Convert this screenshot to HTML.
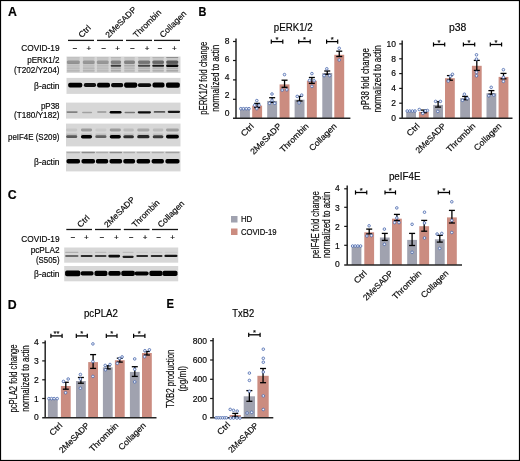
<!DOCTYPE html>
<html><head><meta charset="utf-8"><style>
html,body{margin:0;padding:0;background:#fff;}
body{width:520px;height:461px;overflow:hidden;position:relative;}
svg{position:absolute;left:0;top:0;display:block;font-family:"Liberation Sans", sans-serif;filter:blur(0.25px);}
text{stroke:#151515;stroke-width:0.18px;}
</style></head><body>
<svg width="520" height="461" viewBox="0 0 520 461">
<defs><filter id="bl" x="-20%" y="-50%" width="140%" height="200%"><feGaussianBlur stdDeviation="0.75"/></filter></defs>
<rect x="0" y="0" width="520" height="461" fill="#fff"/>
<text x="8.00" y="16.00" font-size="12.3" text-anchor="start" font-weight="bold" fill="#000" stroke="#000" stroke-width="0.45">A</text>
<text x="198.60" y="15.60" font-size="12.3" text-anchor="start" font-weight="bold" textLength="7.90" lengthAdjust="spacingAndGlyphs" fill="#000" stroke="#000" stroke-width="0.45">B</text>
<text x="7.80" y="198.60" font-size="12.3" text-anchor="start" font-weight="bold" fill="#000" stroke="#000" stroke-width="0.45">C</text>
<text x="7.80" y="309.10" font-size="12.3" text-anchor="start" font-weight="bold" fill="#000" stroke="#000" stroke-width="0.45">D</text>
<text x="166.60" y="308.10" font-size="12.3" text-anchor="start" font-weight="bold" textLength="7.50" lengthAdjust="spacingAndGlyphs" fill="#000" stroke="#000" stroke-width="0.45">E</text>
<line x1="68.00" y1="40.40" x2="94.00" y2="40.40" stroke="#151515" stroke-width="1.3"/>
<line x1="97.00" y1="40.40" x2="123.00" y2="40.40" stroke="#151515" stroke-width="1.3"/>
<line x1="126.00" y1="40.40" x2="152.00" y2="40.40" stroke="#151515" stroke-width="1.3"/>
<line x1="154.00" y1="40.40" x2="180.00" y2="40.40" stroke="#151515" stroke-width="1.3"/>
<text x="75.00" y="50.70" font-size="8" text-anchor="middle" >−</text>
<text x="88.75" y="50.70" font-size="8" text-anchor="middle" >+</text>
<text x="103.75" y="50.70" font-size="8" text-anchor="middle" >−</text>
<text x="117.50" y="50.70" font-size="8" text-anchor="middle" >+</text>
<text x="132.50" y="50.70" font-size="8" text-anchor="middle" >−</text>
<text x="147.00" y="50.70" font-size="8" text-anchor="middle" >+</text>
<text x="160.00" y="50.70" font-size="8" text-anchor="middle" >−</text>
<text x="174.25" y="50.70" font-size="8" text-anchor="middle" >+</text>
<text x="81.70" y="38.20" font-size="8.3" text-anchor="start" textLength="13.80" lengthAdjust="spacingAndGlyphs" transform="rotate(-45 81.70 38.20)" >Ctrl</text>
<text x="108.80" y="38.20" font-size="8.3" text-anchor="start" textLength="39.80" lengthAdjust="spacingAndGlyphs" transform="rotate(-45 108.80 38.20)" >2MeSADP</text>
<text x="136.60" y="38.20" font-size="8.3" text-anchor="start" textLength="35.60" lengthAdjust="spacingAndGlyphs" transform="rotate(-45 136.60 38.20)" >Thrombin</text>
<text x="162.90" y="38.20" font-size="8.3" text-anchor="start" textLength="34.10" lengthAdjust="spacingAndGlyphs" transform="rotate(-45 162.90 38.20)" >Collagen</text>
<text x="59.50" y="50.70" font-size="8.5" text-anchor="end" textLength="38.20" lengthAdjust="spacingAndGlyphs" >COVID-19</text>
<text x="59.50" y="63.40" font-size="8.5" text-anchor="end" textLength="32.30" lengthAdjust="spacingAndGlyphs" >pERK1/2</text>
<text x="59.50" y="72.50" font-size="8.5" text-anchor="end" textLength="45.50" lengthAdjust="spacingAndGlyphs" >(T202/Y204)</text>
<text x="59.50" y="88.90" font-size="8.5" text-anchor="end" textLength="25.40" lengthAdjust="spacingAndGlyphs" >β-actin</text>
<text x="59.50" y="109.00" font-size="8.5" text-anchor="end" textLength="18.60" lengthAdjust="spacingAndGlyphs" >pP38</text>
<text x="59.50" y="118.40" font-size="8.5" text-anchor="end" textLength="45.50" lengthAdjust="spacingAndGlyphs" >(T180/Y182)</text>
<text x="59.50" y="139.80" font-size="8.5" text-anchor="end" textLength="51.50" lengthAdjust="spacingAndGlyphs" >peIF4E (S209)</text>
<text x="59.50" y="164.60" font-size="8.5" text-anchor="end" textLength="25.40" lengthAdjust="spacingAndGlyphs" >β-actin</text>
<rect x="66.50" y="56.50" width="114.00" height="16.50" fill="#d7d7d7"/>
<g filter="url(#bl)">
<rect x="67.10" y="57.30" width="12.50" height="14.90" fill="#000" fill-opacity="0.08"/>
<rect x="83.00" y="57.30" width="11.50" height="14.90" fill="#000" fill-opacity="0.08"/>
<rect x="97.00" y="57.30" width="11.50" height="14.90" fill="#000" fill-opacity="0.08"/>
<rect x="111.00" y="57.30" width="9.80" height="14.90" fill="#000" fill-opacity="0.08"/>
<rect x="124.30" y="57.30" width="10.40" height="14.90" fill="#000" fill-opacity="0.08"/>
<rect x="138.30" y="57.30" width="11.60" height="14.90" fill="#000" fill-opacity="0.08"/>
<rect x="152.60" y="57.30" width="11.10" height="14.90" fill="#000" fill-opacity="0.08"/>
<rect x="166.50" y="57.30" width="11.50" height="14.90" fill="#000" fill-opacity="0.08"/>
<rect x="66.70" y="60.55" width="13.30" height="3.10" rx="1.55" fill="#000" fill-opacity="0.26"/>
<rect x="82.60" y="60.55" width="12.30" height="3.10" rx="1.55" fill="#000" fill-opacity="0.24"/>
<rect x="96.60" y="60.55" width="12.30" height="3.10" rx="1.55" fill="#000" fill-opacity="0.24"/>
<rect x="110.60" y="60.55" width="10.60" height="3.10" rx="1.55" fill="#000" fill-opacity="0.36"/>
<rect x="123.90" y="60.55" width="11.20" height="3.10" rx="1.55" fill="#000" fill-opacity="0.34"/>
<rect x="137.90" y="60.55" width="12.40" height="3.10" rx="1.55" fill="#000" fill-opacity="0.42"/>
<rect x="152.20" y="60.55" width="11.90" height="3.10" rx="1.55" fill="#000" fill-opacity="0.48"/>
<rect x="166.10" y="60.55" width="12.30" height="3.10" rx="1.55" fill="#000" fill-opacity="0.56"/>
<rect x="66.70" y="62.90" width="13.30" height="1.00" rx="0.50" fill="#000" fill-opacity="0.10"/>
<rect x="82.60" y="62.90" width="12.30" height="1.00" rx="0.50" fill="#000" fill-opacity="0.10"/>
<rect x="96.60" y="62.90" width="12.30" height="1.00" rx="0.50" fill="#000" fill-opacity="0.10"/>
<rect x="110.60" y="62.90" width="10.60" height="1.00" rx="0.50" fill="#000" fill-opacity="0.12"/>
<rect x="123.90" y="62.90" width="11.20" height="1.00" rx="0.50" fill="#000" fill-opacity="0.12"/>
<rect x="137.90" y="62.90" width="12.40" height="1.00" rx="0.50" fill="#000" fill-opacity="0.12"/>
<rect x="152.20" y="62.90" width="11.90" height="1.00" rx="0.50" fill="#000" fill-opacity="0.14"/>
<rect x="166.10" y="62.90" width="12.30" height="1.00" rx="0.50" fill="#000" fill-opacity="0.16"/>
<rect x="66.70" y="65.05" width="13.30" height="1.50" rx="0.75" fill="#000" fill-opacity="0.04"/>
<rect x="82.60" y="65.05" width="12.30" height="1.50" rx="0.75" fill="#000" fill-opacity="0.04"/>
<rect x="96.60" y="65.05" width="12.30" height="1.50" rx="0.75" fill="#000" fill-opacity="0.06"/>
<rect x="110.60" y="64.80" width="10.60" height="2.00" rx="1.00" fill="#000" fill-opacity="0.70"/>
<rect x="123.90" y="65.00" width="11.20" height="1.60" rx="0.80" fill="#000" fill-opacity="0.14"/>
<rect x="137.90" y="64.85" width="12.40" height="1.90" rx="0.95" fill="#000" fill-opacity="0.66"/>
<rect x="152.20" y="64.80" width="11.90" height="2.00" rx="1.00" fill="#000" fill-opacity="0.88"/>
<rect x="166.10" y="64.60" width="12.30" height="2.40" rx="1.20" fill="#000" fill-opacity="0.97"/>
<rect x="66.70" y="67.40" width="13.30" height="1.60" rx="0.80" fill="#000" fill-opacity="0.06"/>
<rect x="82.60" y="67.40" width="12.30" height="1.60" rx="0.80" fill="#000" fill-opacity="0.08"/>
<rect x="96.60" y="67.40" width="12.30" height="1.60" rx="0.80" fill="#000" fill-opacity="0.05"/>
<rect x="110.60" y="67.40" width="10.60" height="1.60" rx="0.80" fill="#000" fill-opacity="0.12"/>
<rect x="123.90" y="67.40" width="11.20" height="1.60" rx="0.80" fill="#000" fill-opacity="0.08"/>
<rect x="137.90" y="67.40" width="12.40" height="1.60" rx="0.80" fill="#000" fill-opacity="0.10"/>
<rect x="152.20" y="67.40" width="11.90" height="1.60" rx="0.80" fill="#000" fill-opacity="0.10"/>
<rect x="166.10" y="67.40" width="12.30" height="1.60" rx="0.80" fill="#000" fill-opacity="0.12"/>
<rect x="66.70" y="69.90" width="13.30" height="1.60" rx="0.80" fill="#000" fill-opacity="0.08"/>
<rect x="82.60" y="69.90" width="12.30" height="1.60" rx="0.80" fill="#000" fill-opacity="0.10"/>
<rect x="96.60" y="69.90" width="12.30" height="1.60" rx="0.80" fill="#000" fill-opacity="0.06"/>
<rect x="110.60" y="69.90" width="10.60" height="1.60" rx="0.80" fill="#000" fill-opacity="0.14"/>
<rect x="123.90" y="69.90" width="11.20" height="1.60" rx="0.80" fill="#000" fill-opacity="0.08"/>
<rect x="137.90" y="69.90" width="12.40" height="1.60" rx="0.80" fill="#000" fill-opacity="0.12"/>
<rect x="152.20" y="69.90" width="11.90" height="1.60" rx="0.80" fill="#000" fill-opacity="0.12"/>
<rect x="166.10" y="69.90" width="12.30" height="1.60" rx="0.80" fill="#000" fill-opacity="0.16"/>
<rect x="66.70" y="57.10" width="13.30" height="1.00" rx="0.50" fill="#000" fill-opacity="0.05"/>
<rect x="82.60" y="57.10" width="12.30" height="1.00" rx="0.50" fill="#000" fill-opacity="0.05"/>
<rect x="96.60" y="57.10" width="12.30" height="1.00" rx="0.50" fill="#000" fill-opacity="0.05"/>
<rect x="110.60" y="57.10" width="10.60" height="1.00" rx="0.50" fill="#000" fill-opacity="0.10"/>
<rect x="123.90" y="57.10" width="11.20" height="1.00" rx="0.50" fill="#000" fill-opacity="0.05"/>
<rect x="137.90" y="57.10" width="12.40" height="1.00" rx="0.50" fill="#000" fill-opacity="0.08"/>
<rect x="152.20" y="57.10" width="11.90" height="1.00" rx="0.50" fill="#000" fill-opacity="0.12"/>
<rect x="166.10" y="57.10" width="12.30" height="1.00" rx="0.50" fill="#000" fill-opacity="0.30"/>
</g>
<rect x="66.50" y="77.90" width="114.00" height="16.00" fill="#d7d7d7"/>
<g filter="url(#bl)">
<rect x="68.20" y="82.70" width="14.10" height="4.80" rx="1.80" fill="#000" fill-opacity="1.00"/>
<rect x="83.80" y="83.10" width="12.30" height="4.00" rx="1.80" fill="#000" fill-opacity="0.92"/>
<rect x="97.10" y="82.70" width="12.90" height="4.80" rx="1.80" fill="#000" fill-opacity="1.00"/>
<rect x="111.10" y="82.90" width="12.10" height="4.40" rx="1.80" fill="#000" fill-opacity="0.97"/>
<rect x="124.10" y="82.55" width="13.10" height="5.10" rx="1.80" fill="#000" fill-opacity="1.00"/>
<rect x="137.80" y="83.20" width="13.40" height="3.80" rx="1.80" fill="#000" fill-opacity="0.95"/>
<rect x="152.50" y="82.60" width="12.00" height="5.00" rx="1.80" fill="#000" fill-opacity="1.00"/>
<rect x="166.00" y="82.45" width="13.80" height="5.30" rx="1.80" fill="#000" fill-opacity="1.00"/>
</g>
<rect x="66.00" y="102.60" width="114.50" height="16.00" fill="#d7d7d7"/>
<g filter="url(#bl)">
<rect x="66.50" y="111.30" width="11.20" height="1.60" rx="0.80" fill="#000" fill-opacity="0.40"/>
<rect x="82.10" y="111.80" width="10.00" height="1.40" rx="0.70" fill="#000" fill-opacity="0.25"/>
<rect x="97.10" y="111.35" width="9.40" height="1.50" rx="0.75" fill="#000" fill-opacity="0.30"/>
<rect x="109.70" y="111.00" width="11.80" height="2.60" rx="1.30" fill="#000" fill-opacity="1.00"/>
<rect x="124.50" y="111.70" width="10.60" height="1.60" rx="0.80" fill="#000" fill-opacity="0.45"/>
<rect x="137.70" y="111.15" width="13.30" height="2.30" rx="1.15" fill="#000" fill-opacity="0.95"/>
<rect x="153.70" y="111.00" width="11.60" height="1.80" rx="0.90" fill="#000" fill-opacity="0.60"/>
<rect x="167.70" y="110.70" width="12.40" height="2.20" rx="1.10" fill="#000" fill-opacity="0.90"/>
</g>
<rect x="66.00" y="123.60" width="114.50" height="22.80" fill="#d7d7d7"/>
<g filter="url(#bl)">
<rect x="66.10" y="135.30" width="11.20" height="2.80" rx="1.40" fill="#000" fill-opacity="0.58"/>
<rect x="80.90" y="134.90" width="11.20" height="3.60" rx="1.80" fill="#000" fill-opacity="1.00"/>
<rect x="95.30" y="135.30" width="11.20" height="2.80" rx="1.40" fill="#000" fill-opacity="0.55"/>
<rect x="109.70" y="134.90" width="11.20" height="3.60" rx="1.80" fill="#000" fill-opacity="1.00"/>
<rect x="123.30" y="135.20" width="10.60" height="3.00" rx="1.50" fill="#000" fill-opacity="0.78"/>
<rect x="137.20" y="135.10" width="12.30" height="3.20" rx="1.60" fill="#000" fill-opacity="0.82"/>
<rect x="152.70" y="135.20" width="10.70" height="3.00" rx="1.50" fill="#000" fill-opacity="0.72"/>
<rect x="166.00" y="134.80" width="12.90" height="3.80" rx="1.80" fill="#000" fill-opacity="1.00"/>
<rect x="66.10" y="133.40" width="11.20" height="2.00" rx="1.00" fill="#000" fill-opacity="0.12"/>
<rect x="80.90" y="133.40" width="11.20" height="2.00" rx="1.00" fill="#000" fill-opacity="0.12"/>
<rect x="95.30" y="133.40" width="11.20" height="2.00" rx="1.00" fill="#000" fill-opacity="0.10"/>
<rect x="109.70" y="133.40" width="11.20" height="2.00" rx="1.00" fill="#000" fill-opacity="0.12"/>
<rect x="123.30" y="133.40" width="10.60" height="2.00" rx="1.00" fill="#000" fill-opacity="0.10"/>
<rect x="137.20" y="133.40" width="12.30" height="2.00" rx="1.00" fill="#000" fill-opacity="0.10"/>
<rect x="152.70" y="133.40" width="10.70" height="2.00" rx="1.00" fill="#000" fill-opacity="0.10"/>
<rect x="166.00" y="133.40" width="12.90" height="2.00" rx="1.00" fill="#000" fill-opacity="0.12"/>
<rect x="66.10" y="128.60" width="11.20" height="2.80" rx="1.40" fill="#000" fill-opacity="0.08"/>
<rect x="80.90" y="128.60" width="11.20" height="2.80" rx="1.40" fill="#000" fill-opacity="0.28"/>
<rect x="95.30" y="128.60" width="11.20" height="2.80" rx="1.40" fill="#000" fill-opacity="0.06"/>
<rect x="109.70" y="128.60" width="11.20" height="2.80" rx="1.40" fill="#000" fill-opacity="0.28"/>
<rect x="123.30" y="128.60" width="10.60" height="2.80" rx="1.40" fill="#000" fill-opacity="0.12"/>
<rect x="137.20" y="128.60" width="12.30" height="2.80" rx="1.40" fill="#000" fill-opacity="0.22"/>
<rect x="152.70" y="128.60" width="10.70" height="2.80" rx="1.40" fill="#000" fill-opacity="0.12"/>
<rect x="166.00" y="128.60" width="12.90" height="2.80" rx="1.40" fill="#000" fill-opacity="0.26"/>
</g>
<rect x="66.00" y="151.20" width="114.50" height="20.20" fill="#d7d7d7"/>
<g filter="url(#bl)">
<rect x="66.50" y="159.00" width="13.50" height="4.60" rx="1.80" fill="#000" fill-opacity="1.00"/>
<rect x="81.50" y="159.00" width="13.50" height="4.60" rx="1.80" fill="#000" fill-opacity="1.00"/>
<rect x="95.90" y="159.00" width="12.30" height="4.60" rx="1.80" fill="#000" fill-opacity="1.00"/>
<rect x="109.50" y="159.00" width="12.60" height="4.60" rx="1.80" fill="#000" fill-opacity="1.00"/>
<rect x="123.30" y="159.00" width="11.80" height="4.60" rx="1.80" fill="#000" fill-opacity="1.00"/>
<rect x="136.60" y="159.00" width="13.50" height="4.60" rx="1.80" fill="#000" fill-opacity="1.00"/>
<rect x="151.60" y="159.00" width="12.30" height="4.60" rx="1.80" fill="#000" fill-opacity="1.00"/>
<rect x="165.40" y="159.00" width="14.10" height="4.60" rx="1.80" fill="#000" fill-opacity="1.00"/>
<rect x="66.50" y="151.85" width="13.50" height="1.30" rx="0.65" fill="#000" fill-opacity="0.20"/>
<rect x="81.50" y="151.85" width="13.50" height="1.30" rx="0.65" fill="#000" fill-opacity="0.35"/>
<rect x="95.90" y="151.85" width="12.30" height="1.30" rx="0.65" fill="#000" fill-opacity="0.20"/>
<rect x="109.50" y="151.85" width="12.60" height="1.30" rx="0.65" fill="#000" fill-opacity="0.35"/>
<rect x="123.30" y="151.85" width="11.80" height="1.30" rx="0.65" fill="#000" fill-opacity="0.20"/>
<rect x="136.60" y="151.85" width="13.50" height="1.30" rx="0.65" fill="#000" fill-opacity="0.20"/>
<rect x="151.60" y="151.85" width="12.30" height="1.30" rx="0.65" fill="#000" fill-opacity="0.20"/>
<rect x="165.40" y="151.85" width="14.10" height="1.30" rx="0.65" fill="#000" fill-opacity="0.25"/>
</g>
<line x1="66.30" y1="229.50" x2="92.00" y2="229.50" stroke="#151515" stroke-width="1.3"/>
<line x1="95.00" y1="229.50" x2="120.80" y2="229.50" stroke="#151515" stroke-width="1.3"/>
<line x1="123.80" y1="229.50" x2="149.50" y2="229.50" stroke="#151515" stroke-width="1.3"/>
<line x1="152.00" y1="229.50" x2="178.00" y2="229.50" stroke="#151515" stroke-width="1.3"/>
<text x="73.00" y="240.20" font-size="8" text-anchor="middle" >−</text>
<text x="86.25" y="240.20" font-size="8" text-anchor="middle" >+</text>
<text x="102.00" y="240.20" font-size="8" text-anchor="middle" >−</text>
<text x="116.25" y="240.20" font-size="8" text-anchor="middle" >+</text>
<text x="131.25" y="240.20" font-size="8" text-anchor="middle" >−</text>
<text x="145.00" y="240.20" font-size="8" text-anchor="middle" >+</text>
<text x="158.75" y="240.20" font-size="8" text-anchor="middle" >−</text>
<text x="172.50" y="240.20" font-size="8" text-anchor="middle" >+</text>
<text x="80.50" y="228.00" font-size="8.3" text-anchor="start" textLength="13.50" lengthAdjust="spacingAndGlyphs" transform="rotate(-45 80.50 228.00)" >Ctrl</text>
<text x="107.50" y="228.00" font-size="8.3" text-anchor="start" textLength="39.50" lengthAdjust="spacingAndGlyphs" transform="rotate(-45 107.50 228.00)" >2MeSADP</text>
<text x="135.20" y="228.00" font-size="8.3" text-anchor="start" textLength="35.20" lengthAdjust="spacingAndGlyphs" transform="rotate(-45 135.20 228.00)" >Thrombin</text>
<text x="161.00" y="228.00" font-size="8.3" text-anchor="start" textLength="33.80" lengthAdjust="spacingAndGlyphs" transform="rotate(-45 161.00 228.00)" >Collagen</text>
<text x="59.50" y="242.00" font-size="8.5" text-anchor="end" textLength="38.20" lengthAdjust="spacingAndGlyphs" >COVID-19</text>
<text x="59.50" y="253.20" font-size="8.5" text-anchor="end" textLength="28.80" lengthAdjust="spacingAndGlyphs" >pcPLA2</text>
<text x="59.50" y="262.60" font-size="8.5" text-anchor="end" textLength="23.50" lengthAdjust="spacingAndGlyphs" >(S505)</text>
<text x="59.50" y="277.20" font-size="8.5" text-anchor="end" textLength="25.40" lengthAdjust="spacingAndGlyphs" >β-actin</text>
<rect x="64.20" y="247.50" width="114.00" height="15.20" fill="#d7d7d7"/>
<g filter="url(#bl)">
<rect x="65.10" y="255.10" width="13.40" height="2.00" rx="1.00" fill="#000" fill-opacity="0.50"/>
<rect x="80.60" y="255.10" width="12.00" height="2.00" rx="1.00" fill="#000" fill-opacity="0.80"/>
<rect x="94.80" y="255.10" width="11.70" height="2.00" rx="1.00" fill="#000" fill-opacity="0.70"/>
<rect x="108.30" y="254.80" width="11.80" height="2.60" rx="1.30" fill="#000" fill-opacity="0.95"/>
<rect x="122.50" y="255.70" width="11.20" height="2.20" rx="1.10" fill="#000" fill-opacity="0.85"/>
<rect x="136.30" y="255.10" width="11.80" height="2.00" rx="1.00" fill="#000" fill-opacity="0.80"/>
<rect x="150.70" y="255.10" width="11.80" height="2.00" rx="1.00" fill="#000" fill-opacity="0.80"/>
<rect x="164.40" y="254.75" width="13.10" height="2.30" rx="1.15" fill="#000" fill-opacity="0.90"/>
<rect x="65.10" y="251.70" width="13.40" height="1.20" rx="0.60" fill="#000" fill-opacity="0.18"/>
<rect x="80.60" y="251.70" width="12.00" height="1.20" rx="0.60" fill="#000" fill-opacity="0.05"/>
<rect x="94.80" y="251.70" width="11.70" height="1.20" rx="0.60" fill="#000" fill-opacity="0.12"/>
<rect x="108.30" y="251.70" width="11.80" height="1.20" rx="0.60" fill="#000" fill-opacity="0.05"/>
<rect x="122.50" y="251.70" width="11.20" height="1.20" rx="0.60" fill="#000" fill-opacity="0.12"/>
<rect x="136.30" y="251.70" width="11.80" height="1.20" rx="0.60" fill="#000" fill-opacity="0.05"/>
<rect x="150.70" y="251.70" width="11.80" height="1.20" rx="0.60" fill="#000" fill-opacity="0.06"/>
<rect x="164.40" y="251.70" width="13.10" height="1.20" rx="0.60" fill="#000" fill-opacity="0.05"/>
</g>
<rect x="64.20" y="266.00" width="114.00" height="15.30" fill="#d7d7d7"/>
<g filter="url(#bl)">
<rect x="65.10" y="270.55" width="15.20" height="5.70" rx="1.80" fill="#000" fill-opacity="1.00"/>
<rect x="80.60" y="271.35" width="13.00" height="4.10" rx="1.80" fill="#000" fill-opacity="1.00"/>
<rect x="94.50" y="270.80" width="12.90" height="5.20" rx="1.80" fill="#000" fill-opacity="1.00"/>
<rect x="108.30" y="271.10" width="12.40" height="4.60" rx="1.80" fill="#000" fill-opacity="1.00"/>
<rect x="121.30" y="270.80" width="13.50" height="5.20" rx="1.80" fill="#000" fill-opacity="1.00"/>
<rect x="134.60" y="271.40" width="14.10" height="4.00" rx="1.80" fill="#000" fill-opacity="1.00"/>
<rect x="149.40" y="270.75" width="13.10" height="5.30" rx="1.80" fill="#000" fill-opacity="1.00"/>
<rect x="162.50" y="270.80" width="15.00" height="5.20" rx="1.80" fill="#000" fill-opacity="1.00"/>
</g>
<rect x="231.00" y="216.00" width="6.50" height="6.50" fill="#a0a2af" />
<rect x="231.00" y="228.50" width="6.50" height="6.50" fill="#cb8c80" />
<text x="240.90" y="222.20" font-size="8.3" text-anchor="start" textLength="11.30" lengthAdjust="spacingAndGlyphs" >HD</text>
<text x="240.90" y="234.50" font-size="8.3" text-anchor="start" textLength="35.60" lengthAdjust="spacingAndGlyphs" >COVID-19</text>
<rect x="240.00" y="107.80" width="9.90" height="10.40" fill="#a0a2af" />
<rect x="252.20" y="105.60" width="9.90" height="12.60" fill="#cb8c80" />
<rect x="267.20" y="100.90" width="9.90" height="17.30" fill="#a0a2af" />
<rect x="279.60" y="84.40" width="9.90" height="33.80" fill="#cb8c80" />
<rect x="294.60" y="99.70" width="9.90" height="18.50" fill="#a0a2af" />
<rect x="306.90" y="80.80" width="9.90" height="37.40" fill="#cb8c80" />
<rect x="322.30" y="73.00" width="9.90" height="45.20" fill="#a0a2af" />
<rect x="334.30" y="54.80" width="9.90" height="63.40" fill="#cb8c80" />
<line x1="257.15" y1="103.40" x2="257.15" y2="107.60" stroke="#000" stroke-width="1.3"/>
<line x1="254.15" y1="103.40" x2="260.15" y2="103.40" stroke="#000" stroke-width="1.3"/>
<line x1="254.15" y1="107.60" x2="260.15" y2="107.60" stroke="#000" stroke-width="1.3"/>
<line x1="272.15" y1="97.70" x2="272.15" y2="102.30" stroke="#000" stroke-width="1.3"/>
<line x1="269.15" y1="97.70" x2="275.15" y2="97.70" stroke="#000" stroke-width="1.3"/>
<line x1="269.15" y1="102.30" x2="275.15" y2="102.30" stroke="#000" stroke-width="1.3"/>
<line x1="284.55" y1="80.20" x2="284.55" y2="87.30" stroke="#000" stroke-width="1.3"/>
<line x1="281.55" y1="80.20" x2="287.55" y2="80.20" stroke="#000" stroke-width="1.3"/>
<line x1="281.55" y1="87.30" x2="287.55" y2="87.30" stroke="#000" stroke-width="1.3"/>
<line x1="299.55" y1="96.40" x2="299.55" y2="101.00" stroke="#000" stroke-width="1.3"/>
<line x1="296.55" y1="96.40" x2="302.55" y2="96.40" stroke="#000" stroke-width="1.3"/>
<line x1="296.55" y1="101.00" x2="302.55" y2="101.00" stroke="#000" stroke-width="1.3"/>
<line x1="311.85" y1="77.50" x2="311.85" y2="83.40" stroke="#000" stroke-width="1.3"/>
<line x1="308.85" y1="77.50" x2="314.85" y2="77.50" stroke="#000" stroke-width="1.3"/>
<line x1="308.85" y1="83.40" x2="314.85" y2="83.40" stroke="#000" stroke-width="1.3"/>
<line x1="327.25" y1="71.00" x2="327.25" y2="74.30" stroke="#000" stroke-width="1.3"/>
<line x1="324.25" y1="71.00" x2="330.25" y2="71.00" stroke="#000" stroke-width="1.3"/>
<line x1="324.25" y1="74.30" x2="330.25" y2="74.30" stroke="#000" stroke-width="1.3"/>
<line x1="339.25" y1="51.20" x2="339.25" y2="56.50" stroke="#000" stroke-width="1.3"/>
<line x1="336.25" y1="51.20" x2="342.25" y2="51.20" stroke="#000" stroke-width="1.3"/>
<line x1="336.25" y1="56.50" x2="342.25" y2="56.50" stroke="#000" stroke-width="1.3"/>
<line x1="236.00" y1="38.40" x2="236.00" y2="118.20" stroke="#262626" stroke-width="1.5"/>
<line x1="233.00" y1="118.20" x2="350.40" y2="118.20" stroke="#262626" stroke-width="1.5"/>
<line x1="233.00" y1="41.50" x2="236.00" y2="41.50" stroke="#151515" stroke-width="1.2"/>
<line x1="233.00" y1="60.50" x2="236.00" y2="60.50" stroke="#151515" stroke-width="1.2"/>
<line x1="233.00" y1="79.90" x2="236.00" y2="79.90" stroke="#151515" stroke-width="1.2"/>
<line x1="233.00" y1="99.30" x2="236.00" y2="99.30" stroke="#151515" stroke-width="1.2"/>
<circle cx="240.80" cy="108.70" r="1.3" fill="#f2f5fb" stroke="#3f5fa8" stroke-width="0.75"/>
<circle cx="243.50" cy="108.70" r="1.3" fill="#f2f5fb" stroke="#3f5fa8" stroke-width="0.75"/>
<circle cx="246.30" cy="108.70" r="1.3" fill="#f2f5fb" stroke="#3f5fa8" stroke-width="0.75"/>
<circle cx="249.00" cy="108.70" r="1.3" fill="#f2f5fb" stroke="#3f5fa8" stroke-width="0.75"/>
<circle cx="256.80" cy="100.60" r="1.3" fill="#f2f5fb" stroke="#3f5fa8" stroke-width="0.75"/>
<circle cx="254.70" cy="105.20" r="1.3" fill="#f2f5fb" stroke="#3f5fa8" stroke-width="0.75"/>
<circle cx="259.10" cy="105.20" r="1.3" fill="#f2f5fb" stroke="#3f5fa8" stroke-width="0.75"/>
<circle cx="256.80" cy="108.70" r="1.3" fill="#f2f5fb" stroke="#3f5fa8" stroke-width="0.75"/>
<circle cx="272.00" cy="94.00" r="1.3" fill="#f2f5fb" stroke="#3f5fa8" stroke-width="0.75"/>
<circle cx="269.50" cy="103.30" r="1.3" fill="#f2f5fb" stroke="#3f5fa8" stroke-width="0.75"/>
<circle cx="274.70" cy="103.30" r="1.3" fill="#f2f5fb" stroke="#3f5fa8" stroke-width="0.75"/>
<circle cx="272.00" cy="100.20" r="1.3" fill="#f2f5fb" stroke="#3f5fa8" stroke-width="0.75"/>
<circle cx="284.50" cy="74.60" r="1.3" fill="#f2f5fb" stroke="#3f5fa8" stroke-width="0.75"/>
<circle cx="282.20" cy="90.10" r="1.3" fill="#f2f5fb" stroke="#3f5fa8" stroke-width="0.75"/>
<circle cx="286.80" cy="89.80" r="1.3" fill="#f2f5fb" stroke="#3f5fa8" stroke-width="0.75"/>
<circle cx="297.20" cy="96.40" r="1.3" fill="#f2f5fb" stroke="#3f5fa8" stroke-width="0.75"/>
<circle cx="301.70" cy="95.10" r="1.3" fill="#f2f5fb" stroke="#3f5fa8" stroke-width="0.75"/>
<circle cx="299.10" cy="102.90" r="1.3" fill="#f2f5fb" stroke="#3f5fa8" stroke-width="0.75"/>
<circle cx="311.90" cy="73.60" r="1.3" fill="#f2f5fb" stroke="#3f5fa8" stroke-width="0.75"/>
<circle cx="309.50" cy="80.40" r="1.3" fill="#f2f5fb" stroke="#3f5fa8" stroke-width="0.75"/>
<circle cx="314.10" cy="80.80" r="1.3" fill="#f2f5fb" stroke="#3f5fa8" stroke-width="0.75"/>
<circle cx="311.90" cy="86.40" r="1.3" fill="#f2f5fb" stroke="#3f5fa8" stroke-width="0.75"/>
<circle cx="326.80" cy="68.80" r="1.3" fill="#f2f5fb" stroke="#3f5fa8" stroke-width="0.75"/>
<circle cx="324.10" cy="75.60" r="1.3" fill="#f2f5fb" stroke="#3f5fa8" stroke-width="0.75"/>
<circle cx="329.70" cy="75.60" r="1.3" fill="#f2f5fb" stroke="#3f5fa8" stroke-width="0.75"/>
<circle cx="339.20" cy="48.30" r="1.3" fill="#f2f5fb" stroke="#3f5fa8" stroke-width="0.75"/>
<circle cx="339.20" cy="60.00" r="1.3" fill="#f2f5fb" stroke="#3f5fa8" stroke-width="0.75"/>
<text x="229.50" y="43.93" font-size="8.5" text-anchor="end" >8</text>
<text x="229.50" y="62.03" font-size="8.5" text-anchor="end" >6</text>
<text x="229.50" y="80.23" font-size="8.5" text-anchor="end" >4</text>
<text x="229.50" y="98.43" font-size="8.5" text-anchor="end" >2</text>
<text x="229.50" y="116.33" font-size="8.5" text-anchor="end" >0</text>
<text x="206.60" y="78.20" font-size="10.8" text-anchor="middle" textLength="73.00" lengthAdjust="spacingAndGlyphs" transform="rotate(-90 206.60 78.20)" >pERK1/2 fold change</text>
<text x="218.80" y="78.20" font-size="10.8" text-anchor="middle" textLength="67.00" lengthAdjust="spacingAndGlyphs" transform="rotate(-90 218.80 78.20)" >normalized to actin</text>
<text x="273.80" y="30.80" font-size="10.1" text-anchor="start" textLength="38.90" lengthAdjust="spacingAndGlyphs" >pERK1/2</text>
<text x="254.50" y="126.80" font-size="8.5" text-anchor="end" textLength="14.50" lengthAdjust="spacingAndGlyphs" transform="rotate(-45 254.50 126.80)" >Ctrl</text>
<text x="282.00" y="126.80" font-size="8.5" text-anchor="end" textLength="40.00" lengthAdjust="spacingAndGlyphs" transform="rotate(-45 282.00 126.80)" >2MeSADP</text>
<text x="309.30" y="126.80" font-size="8.5" text-anchor="end" textLength="37.00" lengthAdjust="spacingAndGlyphs" transform="rotate(-45 309.30 126.80)" >Thrombin</text>
<text x="337.20" y="126.80" font-size="8.5" text-anchor="end" textLength="35.00" lengthAdjust="spacingAndGlyphs" transform="rotate(-45 337.20 126.80)" >Collagen</text>
<line x1="271.30" y1="41.60" x2="282.80" y2="41.60" stroke="#000" stroke-width="1.3"/>
<line x1="271.30" y1="39.50" x2="271.30" y2="43.70" stroke="#000" stroke-width="1.2"/>
<line x1="282.80" y1="39.50" x2="282.80" y2="43.70" stroke="#000" stroke-width="1.2"/>
<text x="277.05" y="41.70" font-size="7.6" text-anchor="middle" fill="#000" >*</text>
<line x1="298.70" y1="41.60" x2="310.20" y2="41.60" stroke="#000" stroke-width="1.3"/>
<line x1="298.70" y1="39.50" x2="298.70" y2="43.70" stroke="#000" stroke-width="1.2"/>
<line x1="310.20" y1="39.50" x2="310.20" y2="43.70" stroke="#000" stroke-width="1.2"/>
<text x="304.45" y="41.70" font-size="7.6" text-anchor="middle" fill="#000" >*</text>
<line x1="326.60" y1="41.60" x2="337.70" y2="41.60" stroke="#000" stroke-width="1.3"/>
<line x1="326.60" y1="39.50" x2="326.60" y2="43.70" stroke="#000" stroke-width="1.2"/>
<line x1="337.70" y1="39.50" x2="337.70" y2="43.70" stroke="#000" stroke-width="1.2"/>
<text x="332.15" y="41.70" font-size="7.6" text-anchor="middle" fill="#000" >*</text>
<rect x="406.20" y="110.80" width="9.80" height="7.40" fill="#a0a2af" />
<rect x="418.90" y="112.00" width="9.80" height="6.20" fill="#cb8c80" />
<rect x="433.20" y="104.90" width="9.80" height="13.30" fill="#a0a2af" />
<rect x="445.00" y="78.20" width="9.80" height="40.00" fill="#cb8c80" />
<rect x="460.20" y="98.10" width="9.80" height="20.10" fill="#a0a2af" />
<rect x="471.90" y="65.80" width="9.80" height="52.40" fill="#cb8c80" />
<rect x="486.50" y="93.20" width="9.80" height="25.00" fill="#a0a2af" />
<rect x="498.60" y="76.90" width="9.80" height="41.30" fill="#cb8c80" />
<line x1="423.80" y1="110.10" x2="423.80" y2="112.70" stroke="#000" stroke-width="1.3"/>
<line x1="420.80" y1="110.10" x2="426.80" y2="110.10" stroke="#000" stroke-width="1.3"/>
<line x1="420.80" y1="112.70" x2="426.80" y2="112.70" stroke="#000" stroke-width="1.3"/>
<line x1="438.10" y1="101.60" x2="438.10" y2="107.10" stroke="#000" stroke-width="1.3"/>
<line x1="435.10" y1="101.60" x2="441.10" y2="101.60" stroke="#000" stroke-width="1.3"/>
<line x1="435.10" y1="107.10" x2="441.10" y2="107.10" stroke="#000" stroke-width="1.3"/>
<line x1="449.90" y1="75.60" x2="449.90" y2="80.20" stroke="#000" stroke-width="1.3"/>
<line x1="446.90" y1="75.60" x2="452.90" y2="75.60" stroke="#000" stroke-width="1.3"/>
<line x1="446.90" y1="80.20" x2="452.90" y2="80.20" stroke="#000" stroke-width="1.3"/>
<line x1="465.10" y1="96.40" x2="465.10" y2="99.70" stroke="#000" stroke-width="1.3"/>
<line x1="462.10" y1="96.40" x2="468.10" y2="96.40" stroke="#000" stroke-width="1.3"/>
<line x1="462.10" y1="99.70" x2="468.10" y2="99.70" stroke="#000" stroke-width="1.3"/>
<line x1="476.80" y1="60.40" x2="476.80" y2="70.40" stroke="#000" stroke-width="1.3"/>
<line x1="473.80" y1="60.40" x2="479.80" y2="60.40" stroke="#000" stroke-width="1.3"/>
<line x1="473.80" y1="70.40" x2="479.80" y2="70.40" stroke="#000" stroke-width="1.3"/>
<line x1="491.40" y1="90.60" x2="491.40" y2="94.20" stroke="#000" stroke-width="1.3"/>
<line x1="488.40" y1="90.60" x2="494.40" y2="90.60" stroke="#000" stroke-width="1.3"/>
<line x1="488.40" y1="94.20" x2="494.40" y2="94.20" stroke="#000" stroke-width="1.3"/>
<line x1="503.50" y1="73.40" x2="503.50" y2="78.80" stroke="#000" stroke-width="1.3"/>
<line x1="500.50" y1="73.40" x2="506.50" y2="73.40" stroke="#000" stroke-width="1.3"/>
<line x1="500.50" y1="78.80" x2="506.50" y2="78.80" stroke="#000" stroke-width="1.3"/>
<line x1="402.20" y1="40.60" x2="402.20" y2="118.20" stroke="#262626" stroke-width="1.5"/>
<line x1="399.20" y1="118.20" x2="512.50" y2="118.20" stroke="#262626" stroke-width="1.5"/>
<line x1="399.20" y1="43.90" x2="402.20" y2="43.90" stroke="#151515" stroke-width="1.2"/>
<line x1="399.20" y1="58.80" x2="402.20" y2="58.80" stroke="#151515" stroke-width="1.2"/>
<line x1="399.20" y1="73.60" x2="402.20" y2="73.60" stroke="#151515" stroke-width="1.2"/>
<line x1="399.20" y1="88.40" x2="402.20" y2="88.40" stroke="#151515" stroke-width="1.2"/>
<line x1="399.20" y1="103.20" x2="402.20" y2="103.20" stroke="#151515" stroke-width="1.2"/>
<circle cx="407.20" cy="111.00" r="1.3" fill="#f2f5fb" stroke="#3f5fa8" stroke-width="0.75"/>
<circle cx="409.80" cy="111.00" r="1.3" fill="#f2f5fb" stroke="#3f5fa8" stroke-width="0.75"/>
<circle cx="412.40" cy="111.00" r="1.3" fill="#f2f5fb" stroke="#3f5fa8" stroke-width="0.75"/>
<circle cx="415.00" cy="111.00" r="1.3" fill="#f2f5fb" stroke="#3f5fa8" stroke-width="0.75"/>
<circle cx="419.30" cy="109.50" r="1.3" fill="#f2f5fb" stroke="#3f5fa8" stroke-width="0.75"/>
<circle cx="427.40" cy="110.50" r="1.3" fill="#f2f5fb" stroke="#3f5fa8" stroke-width="0.75"/>
<circle cx="422.80" cy="113.40" r="1.3" fill="#f2f5fb" stroke="#3f5fa8" stroke-width="0.75"/>
<circle cx="425.40" cy="110.80" r="1.3" fill="#f2f5fb" stroke="#3f5fa8" stroke-width="0.75"/>
<circle cx="435.60" cy="101.40" r="1.3" fill="#f2f5fb" stroke="#3f5fa8" stroke-width="0.75"/>
<circle cx="440.40" cy="101.40" r="1.3" fill="#f2f5fb" stroke="#3f5fa8" stroke-width="0.75"/>
<circle cx="437.80" cy="111.40" r="1.3" fill="#f2f5fb" stroke="#3f5fa8" stroke-width="0.75"/>
<circle cx="448.20" cy="81.10" r="1.3" fill="#f2f5fb" stroke="#3f5fa8" stroke-width="0.75"/>
<circle cx="452.50" cy="74.30" r="1.3" fill="#f2f5fb" stroke="#3f5fa8" stroke-width="0.75"/>
<circle cx="450.40" cy="76.30" r="1.3" fill="#f2f5fb" stroke="#3f5fa8" stroke-width="0.75"/>
<circle cx="464.40" cy="94.20" r="1.3" fill="#f2f5fb" stroke="#3f5fa8" stroke-width="0.75"/>
<circle cx="462.50" cy="100.30" r="1.3" fill="#f2f5fb" stroke="#3f5fa8" stroke-width="0.75"/>
<circle cx="467.40" cy="98.40" r="1.3" fill="#f2f5fb" stroke="#3f5fa8" stroke-width="0.75"/>
<circle cx="476.50" cy="54.80" r="1.3" fill="#f2f5fb" stroke="#3f5fa8" stroke-width="0.75"/>
<circle cx="476.50" cy="59.10" r="1.3" fill="#f2f5fb" stroke="#3f5fa8" stroke-width="0.75"/>
<circle cx="476.50" cy="72.30" r="1.3" fill="#f2f5fb" stroke="#3f5fa8" stroke-width="0.75"/>
<circle cx="476.50" cy="75.80" r="1.3" fill="#f2f5fb" stroke="#3f5fa8" stroke-width="0.75"/>
<circle cx="491.20" cy="87.30" r="1.3" fill="#f2f5fb" stroke="#3f5fa8" stroke-width="0.75"/>
<circle cx="488.80" cy="95.80" r="1.3" fill="#f2f5fb" stroke="#3f5fa8" stroke-width="0.75"/>
<circle cx="493.80" cy="95.10" r="1.3" fill="#f2f5fb" stroke="#3f5fa8" stroke-width="0.75"/>
<circle cx="503.40" cy="69.70" r="1.3" fill="#f2f5fb" stroke="#3f5fa8" stroke-width="0.75"/>
<circle cx="503.40" cy="81.40" r="1.3" fill="#f2f5fb" stroke="#3f5fa8" stroke-width="0.75"/>
<circle cx="503.40" cy="77.30" r="1.3" fill="#f2f5fb" stroke="#3f5fa8" stroke-width="0.75"/>
<text x="396.00" y="46.73" font-size="8.5" text-anchor="end" >10</text>
<text x="396.00" y="61.63" font-size="8.5" text-anchor="end" >8</text>
<text x="396.00" y="76.43" font-size="8.5" text-anchor="end" >6</text>
<text x="396.00" y="91.23" font-size="8.5" text-anchor="end" >4</text>
<text x="396.00" y="106.13" font-size="8.5" text-anchor="end" >2</text>
<text x="396.00" y="120.93" font-size="8.5" text-anchor="end" >0</text>
<text x="368.60" y="78.90" font-size="10.8" text-anchor="middle" textLength="61.50" lengthAdjust="spacingAndGlyphs" transform="rotate(-90 368.60 78.90)" >pP38 fold change</text>
<text x="380.80" y="78.90" font-size="10.8" text-anchor="middle" textLength="67.40" lengthAdjust="spacingAndGlyphs" transform="rotate(-90 380.80 78.90)" >normalized to actin</text>
<text x="449.00" y="31.20" font-size="10.1" text-anchor="start" textLength="17.40" lengthAdjust="spacingAndGlyphs" >p38</text>
<text x="420.30" y="126.50" font-size="8.5" text-anchor="end" textLength="14.50" lengthAdjust="spacingAndGlyphs" transform="rotate(-45 420.30 126.50)" >Ctrl</text>
<text x="446.30" y="126.50" font-size="8.5" text-anchor="end" textLength="38.50" lengthAdjust="spacingAndGlyphs" transform="rotate(-45 446.30 126.50)" >2MeSADP</text>
<text x="476.00" y="126.50" font-size="8.5" text-anchor="end" textLength="37.00" lengthAdjust="spacingAndGlyphs" transform="rotate(-45 476.00 126.50)" >Thrombin</text>
<text x="502.00" y="126.50" font-size="8.5" text-anchor="end" textLength="35.00" lengthAdjust="spacingAndGlyphs" transform="rotate(-45 502.00 126.50)" >Collagen</text>
<line x1="433.50" y1="44.50" x2="444.70" y2="44.50" stroke="#000" stroke-width="1.3"/>
<line x1="433.50" y1="42.40" x2="433.50" y2="46.60" stroke="#000" stroke-width="1.2"/>
<line x1="444.70" y1="42.40" x2="444.70" y2="46.60" stroke="#000" stroke-width="1.2"/>
<text x="439.10" y="44.60" font-size="7.6" text-anchor="middle" fill="#000" >*</text>
<line x1="463.40" y1="44.50" x2="474.70" y2="44.50" stroke="#000" stroke-width="1.3"/>
<line x1="463.40" y1="42.40" x2="463.40" y2="46.60" stroke="#000" stroke-width="1.2"/>
<line x1="474.70" y1="42.40" x2="474.70" y2="46.60" stroke="#000" stroke-width="1.2"/>
<text x="469.05" y="44.60" font-size="7.6" text-anchor="middle" fill="#000" >*</text>
<line x1="490.30" y1="44.50" x2="501.60" y2="44.50" stroke="#000" stroke-width="1.3"/>
<line x1="490.30" y1="42.40" x2="490.30" y2="46.60" stroke="#000" stroke-width="1.2"/>
<line x1="501.60" y1="42.40" x2="501.60" y2="46.60" stroke="#000" stroke-width="1.2"/>
<text x="495.95" y="44.60" font-size="7.6" text-anchor="middle" fill="#000" >*</text>
<rect x="351.60" y="246.40" width="9.80" height="18.60" fill="#a0a2af" />
<rect x="364.30" y="232.30" width="9.80" height="32.70" fill="#cb8c80" />
<rect x="379.90" y="237.50" width="9.80" height="27.50" fill="#a0a2af" />
<rect x="392.00" y="218.70" width="9.80" height="46.30" fill="#cb8c80" />
<rect x="407.20" y="239.90" width="9.80" height="25.10" fill="#a0a2af" />
<rect x="419.30" y="226.20" width="9.80" height="38.80" fill="#cb8c80" />
<rect x="434.90" y="239.30" width="9.80" height="25.70" fill="#a0a2af" />
<rect x="447.00" y="217.40" width="9.80" height="47.60" fill="#cb8c80" />
<line x1="369.20" y1="229.10" x2="369.20" y2="233.90" stroke="#000" stroke-width="1.3"/>
<line x1="366.20" y1="229.10" x2="372.20" y2="229.10" stroke="#000" stroke-width="1.3"/>
<line x1="366.20" y1="233.90" x2="372.20" y2="233.90" stroke="#000" stroke-width="1.3"/>
<line x1="384.80" y1="233.40" x2="384.80" y2="240.40" stroke="#000" stroke-width="1.3"/>
<line x1="381.80" y1="233.40" x2="387.80" y2="233.40" stroke="#000" stroke-width="1.3"/>
<line x1="381.80" y1="240.40" x2="387.80" y2="240.40" stroke="#000" stroke-width="1.3"/>
<line x1="396.90" y1="214.40" x2="396.90" y2="220.60" stroke="#000" stroke-width="1.3"/>
<line x1="393.90" y1="214.40" x2="399.90" y2="214.40" stroke="#000" stroke-width="1.3"/>
<line x1="393.90" y1="220.60" x2="399.90" y2="220.60" stroke="#000" stroke-width="1.3"/>
<line x1="412.10" y1="233.40" x2="412.10" y2="245.50" stroke="#000" stroke-width="1.3"/>
<line x1="409.10" y1="233.40" x2="415.10" y2="233.40" stroke="#000" stroke-width="1.3"/>
<line x1="409.10" y1="245.50" x2="415.10" y2="245.50" stroke="#000" stroke-width="1.3"/>
<line x1="424.20" y1="220.40" x2="424.20" y2="231.20" stroke="#000" stroke-width="1.3"/>
<line x1="421.20" y1="220.40" x2="427.20" y2="220.40" stroke="#000" stroke-width="1.3"/>
<line x1="421.20" y1="231.20" x2="427.20" y2="231.20" stroke="#000" stroke-width="1.3"/>
<line x1="439.80" y1="235.30" x2="439.80" y2="242.10" stroke="#000" stroke-width="1.3"/>
<line x1="436.80" y1="235.30" x2="442.80" y2="235.30" stroke="#000" stroke-width="1.3"/>
<line x1="436.80" y1="242.10" x2="442.80" y2="242.10" stroke="#000" stroke-width="1.3"/>
<line x1="451.90" y1="210.40" x2="451.90" y2="223.00" stroke="#000" stroke-width="1.3"/>
<line x1="448.90" y1="210.40" x2="454.90" y2="210.40" stroke="#000" stroke-width="1.3"/>
<line x1="448.90" y1="223.00" x2="454.90" y2="223.00" stroke="#000" stroke-width="1.3"/>
<line x1="347.20" y1="185.60" x2="347.20" y2="265.00" stroke="#262626" stroke-width="1.5"/>
<line x1="344.20" y1="265.00" x2="462.00" y2="265.00" stroke="#262626" stroke-width="1.5"/>
<line x1="344.20" y1="188.80" x2="347.20" y2="188.80" stroke="#151515" stroke-width="1.2"/>
<line x1="344.20" y1="207.30" x2="347.20" y2="207.30" stroke="#151515" stroke-width="1.2"/>
<line x1="344.20" y1="226.40" x2="347.20" y2="226.40" stroke="#151515" stroke-width="1.2"/>
<line x1="344.20" y1="245.30" x2="347.20" y2="245.30" stroke="#151515" stroke-width="1.2"/>
<circle cx="352.60" cy="246.00" r="1.3" fill="#f2f5fb" stroke="#3f5fa8" stroke-width="0.75"/>
<circle cx="355.20" cy="246.00" r="1.3" fill="#f2f5fb" stroke="#3f5fa8" stroke-width="0.75"/>
<circle cx="357.80" cy="246.00" r="1.3" fill="#f2f5fb" stroke="#3f5fa8" stroke-width="0.75"/>
<circle cx="360.60" cy="246.00" r="1.3" fill="#f2f5fb" stroke="#3f5fa8" stroke-width="0.75"/>
<circle cx="369.10" cy="225.80" r="1.3" fill="#f2f5fb" stroke="#3f5fa8" stroke-width="0.75"/>
<circle cx="366.90" cy="236.00" r="1.3" fill="#f2f5fb" stroke="#3f5fa8" stroke-width="0.75"/>
<circle cx="371.40" cy="235.60" r="1.3" fill="#f2f5fb" stroke="#3f5fa8" stroke-width="0.75"/>
<circle cx="384.40" cy="229.10" r="1.3" fill="#f2f5fb" stroke="#3f5fa8" stroke-width="0.75"/>
<circle cx="384.40" cy="244.30" r="1.3" fill="#f2f5fb" stroke="#3f5fa8" stroke-width="0.75"/>
<circle cx="396.80" cy="207.90" r="1.3" fill="#f2f5fb" stroke="#3f5fa8" stroke-width="0.75"/>
<circle cx="394.60" cy="222.60" r="1.3" fill="#f2f5fb" stroke="#3f5fa8" stroke-width="0.75"/>
<circle cx="399.00" cy="222.60" r="1.3" fill="#f2f5fb" stroke="#3f5fa8" stroke-width="0.75"/>
<circle cx="396.80" cy="218.00" r="1.3" fill="#f2f5fb" stroke="#3f5fa8" stroke-width="0.75"/>
<circle cx="412.10" cy="224.30" r="1.3" fill="#f2f5fb" stroke="#3f5fa8" stroke-width="0.75"/>
<circle cx="412.10" cy="252.30" r="1.3" fill="#f2f5fb" stroke="#3f5fa8" stroke-width="0.75"/>
<circle cx="424.50" cy="212.20" r="1.3" fill="#f2f5fb" stroke="#3f5fa8" stroke-width="0.75"/>
<circle cx="424.50" cy="223.00" r="1.3" fill="#f2f5fb" stroke="#3f5fa8" stroke-width="0.75"/>
<circle cx="424.50" cy="238.00" r="1.3" fill="#f2f5fb" stroke="#3f5fa8" stroke-width="0.75"/>
<circle cx="437.10" cy="234.00" r="1.3" fill="#f2f5fb" stroke="#3f5fa8" stroke-width="0.75"/>
<circle cx="441.80" cy="233.40" r="1.3" fill="#f2f5fb" stroke="#3f5fa8" stroke-width="0.75"/>
<circle cx="439.70" cy="248.40" r="1.3" fill="#f2f5fb" stroke="#3f5fa8" stroke-width="0.75"/>
<circle cx="451.80" cy="201.80" r="1.3" fill="#f2f5fb" stroke="#3f5fa8" stroke-width="0.75"/>
<circle cx="451.80" cy="220.40" r="1.3" fill="#f2f5fb" stroke="#3f5fa8" stroke-width="0.75"/>
<circle cx="451.80" cy="232.50" r="1.3" fill="#f2f5fb" stroke="#3f5fa8" stroke-width="0.75"/>
<text x="339.80" y="191.13" font-size="8.5" text-anchor="end" >4</text>
<text x="339.80" y="210.63" font-size="8.5" text-anchor="end" >3</text>
<text x="339.80" y="229.73" font-size="8.5" text-anchor="end" >2</text>
<text x="339.80" y="248.83" font-size="8.5" text-anchor="end" >1</text>
<text x="339.80" y="267.33" font-size="8.5" text-anchor="end" >0</text>
<text x="319.00" y="224.80" font-size="10.8" text-anchor="middle" textLength="67.00" lengthAdjust="spacingAndGlyphs" transform="rotate(-90 319.00 224.80)" >peIF4E fold change</text>
<text x="330.50" y="224.80" font-size="10.8" text-anchor="middle" textLength="66.50" lengthAdjust="spacingAndGlyphs" transform="rotate(-90 330.50 224.80)" >normalized to actin</text>
<text x="388.90" y="179.80" font-size="10.1" text-anchor="start" textLength="31.60" lengthAdjust="spacingAndGlyphs" >peIF4E</text>
<text x="367.50" y="273.80" font-size="8.5" text-anchor="end" textLength="14.50" lengthAdjust="spacingAndGlyphs" transform="rotate(-45 367.50 273.80)" >Ctrl</text>
<text x="393.70" y="273.80" font-size="8.5" text-anchor="end" textLength="38.50" lengthAdjust="spacingAndGlyphs" transform="rotate(-45 393.70 273.80)" >2MeSADP</text>
<text x="422.00" y="273.80" font-size="8.5" text-anchor="end" textLength="37.00" lengthAdjust="spacingAndGlyphs" transform="rotate(-45 422.00 273.80)" >Thrombin</text>
<text x="449.00" y="273.80" font-size="8.5" text-anchor="end" textLength="35.00" lengthAdjust="spacingAndGlyphs" transform="rotate(-45 449.00 273.80)" >Collagen</text>
<line x1="355.50" y1="192.50" x2="366.75" y2="192.50" stroke="#000" stroke-width="1.3"/>
<line x1="355.50" y1="190.40" x2="355.50" y2="194.60" stroke="#000" stroke-width="1.2"/>
<line x1="366.75" y1="190.40" x2="366.75" y2="194.60" stroke="#000" stroke-width="1.2"/>
<text x="361.12" y="192.60" font-size="7.6" text-anchor="middle" fill="#000" >*</text>
<line x1="385.00" y1="192.50" x2="395.50" y2="192.50" stroke="#000" stroke-width="1.3"/>
<line x1="385.00" y1="190.40" x2="385.00" y2="194.60" stroke="#000" stroke-width="1.2"/>
<line x1="395.50" y1="190.40" x2="395.50" y2="194.60" stroke="#000" stroke-width="1.2"/>
<text x="390.25" y="192.60" font-size="7.6" text-anchor="middle" fill="#000" >*</text>
<line x1="438.25" y1="192.50" x2="449.50" y2="192.50" stroke="#000" stroke-width="1.3"/>
<line x1="438.25" y1="190.40" x2="438.25" y2="194.60" stroke="#000" stroke-width="1.2"/>
<line x1="449.50" y1="190.40" x2="449.50" y2="194.60" stroke="#000" stroke-width="1.2"/>
<text x="443.88" y="192.60" font-size="7.6" text-anchor="middle" fill="#000" >*</text>
<rect x="47.90" y="398.70" width="9.80" height="19.00" fill="#a0a2af" />
<rect x="60.90" y="386.00" width="9.80" height="31.70" fill="#cb8c80" />
<rect x="76.00" y="381.00" width="9.80" height="36.70" fill="#a0a2af" />
<rect x="88.20" y="362.10" width="9.80" height="55.60" fill="#cb8c80" />
<rect x="102.90" y="367.30" width="9.80" height="50.40" fill="#a0a2af" />
<rect x="114.90" y="360.20" width="9.80" height="57.50" fill="#cb8c80" />
<rect x="129.90" y="371.90" width="9.80" height="45.80" fill="#a0a2af" />
<rect x="142.00" y="353.00" width="9.80" height="64.70" fill="#cb8c80" />
<line x1="65.80" y1="382.30" x2="65.80" y2="389.20" stroke="#000" stroke-width="1.3"/>
<line x1="62.80" y1="382.30" x2="68.80" y2="382.30" stroke="#000" stroke-width="1.3"/>
<line x1="62.80" y1="389.20" x2="68.80" y2="389.20" stroke="#000" stroke-width="1.3"/>
<line x1="80.90" y1="377.50" x2="80.90" y2="383.20" stroke="#000" stroke-width="1.3"/>
<line x1="77.90" y1="377.50" x2="83.90" y2="377.50" stroke="#000" stroke-width="1.3"/>
<line x1="77.90" y1="383.20" x2="83.90" y2="383.20" stroke="#000" stroke-width="1.3"/>
<line x1="93.10" y1="354.60" x2="93.10" y2="368.40" stroke="#000" stroke-width="1.3"/>
<line x1="90.10" y1="354.60" x2="96.10" y2="354.60" stroke="#000" stroke-width="1.3"/>
<line x1="90.10" y1="368.40" x2="96.10" y2="368.40" stroke="#000" stroke-width="1.3"/>
<line x1="107.80" y1="365.80" x2="107.80" y2="368.90" stroke="#000" stroke-width="1.3"/>
<line x1="104.80" y1="365.80" x2="110.80" y2="365.80" stroke="#000" stroke-width="1.3"/>
<line x1="104.80" y1="368.90" x2="110.80" y2="368.90" stroke="#000" stroke-width="1.3"/>
<line x1="119.80" y1="358.20" x2="119.80" y2="362.10" stroke="#000" stroke-width="1.3"/>
<line x1="116.80" y1="358.20" x2="122.80" y2="358.20" stroke="#000" stroke-width="1.3"/>
<line x1="116.80" y1="362.10" x2="122.80" y2="362.10" stroke="#000" stroke-width="1.3"/>
<line x1="134.80" y1="366.70" x2="134.80" y2="376.40" stroke="#000" stroke-width="1.3"/>
<line x1="131.80" y1="366.70" x2="137.80" y2="366.70" stroke="#000" stroke-width="1.3"/>
<line x1="131.80" y1="376.40" x2="137.80" y2="376.40" stroke="#000" stroke-width="1.3"/>
<line x1="146.90" y1="351.50" x2="146.90" y2="355.00" stroke="#000" stroke-width="1.3"/>
<line x1="143.90" y1="351.50" x2="149.90" y2="351.50" stroke="#000" stroke-width="1.3"/>
<line x1="143.90" y1="355.00" x2="149.90" y2="355.00" stroke="#000" stroke-width="1.3"/>
<line x1="45.20" y1="340.40" x2="45.20" y2="417.70" stroke="#262626" stroke-width="1.5"/>
<line x1="42.20" y1="417.70" x2="156.50" y2="417.70" stroke="#262626" stroke-width="1.5"/>
<line x1="42.20" y1="342.80" x2="45.20" y2="342.80" stroke="#151515" stroke-width="1.2"/>
<line x1="42.20" y1="360.90" x2="45.20" y2="360.90" stroke="#151515" stroke-width="1.2"/>
<line x1="42.20" y1="379.80" x2="45.20" y2="379.80" stroke="#151515" stroke-width="1.2"/>
<line x1="42.20" y1="398.50" x2="45.20" y2="398.50" stroke="#151515" stroke-width="1.2"/>
<circle cx="48.90" cy="398.60" r="1.3" fill="#f2f5fb" stroke="#3f5fa8" stroke-width="0.75"/>
<circle cx="51.50" cy="398.60" r="1.3" fill="#f2f5fb" stroke="#3f5fa8" stroke-width="0.75"/>
<circle cx="54.10" cy="398.60" r="1.3" fill="#f2f5fb" stroke="#3f5fa8" stroke-width="0.75"/>
<circle cx="57.20" cy="398.60" r="1.3" fill="#f2f5fb" stroke="#3f5fa8" stroke-width="0.75"/>
<circle cx="63.50" cy="381.40" r="1.3" fill="#f2f5fb" stroke="#3f5fa8" stroke-width="0.75"/>
<circle cx="68.20" cy="379.00" r="1.3" fill="#f2f5fb" stroke="#3f5fa8" stroke-width="0.75"/>
<circle cx="65.60" cy="392.70" r="1.3" fill="#f2f5fb" stroke="#3f5fa8" stroke-width="0.75"/>
<circle cx="80.40" cy="374.50" r="1.3" fill="#f2f5fb" stroke="#3f5fa8" stroke-width="0.75"/>
<circle cx="80.40" cy="379.00" r="1.3" fill="#f2f5fb" stroke="#3f5fa8" stroke-width="0.75"/>
<circle cx="80.40" cy="388.20" r="1.3" fill="#f2f5fb" stroke="#3f5fa8" stroke-width="0.75"/>
<circle cx="92.90" cy="343.90" r="1.3" fill="#f2f5fb" stroke="#3f5fa8" stroke-width="0.75"/>
<circle cx="92.90" cy="361.50" r="1.3" fill="#f2f5fb" stroke="#3f5fa8" stroke-width="0.75"/>
<circle cx="92.90" cy="376.40" r="1.3" fill="#f2f5fb" stroke="#3f5fa8" stroke-width="0.75"/>
<circle cx="105.20" cy="365.40" r="1.3" fill="#f2f5fb" stroke="#3f5fa8" stroke-width="0.75"/>
<circle cx="110.00" cy="364.50" r="1.3" fill="#f2f5fb" stroke="#3f5fa8" stroke-width="0.75"/>
<circle cx="105.50" cy="369.70" r="1.3" fill="#f2f5fb" stroke="#3f5fa8" stroke-width="0.75"/>
<circle cx="117.30" cy="363.40" r="1.3" fill="#f2f5fb" stroke="#3f5fa8" stroke-width="0.75"/>
<circle cx="122.10" cy="356.90" r="1.3" fill="#f2f5fb" stroke="#3f5fa8" stroke-width="0.75"/>
<circle cx="119.50" cy="358.50" r="1.3" fill="#f2f5fb" stroke="#3f5fa8" stroke-width="0.75"/>
<circle cx="134.70" cy="358.90" r="1.3" fill="#f2f5fb" stroke="#3f5fa8" stroke-width="0.75"/>
<circle cx="134.70" cy="369.30" r="1.3" fill="#f2f5fb" stroke="#3f5fa8" stroke-width="0.75"/>
<circle cx="134.70" cy="381.90" r="1.3" fill="#f2f5fb" stroke="#3f5fa8" stroke-width="0.75"/>
<circle cx="144.60" cy="356.70" r="1.3" fill="#f2f5fb" stroke="#3f5fa8" stroke-width="0.75"/>
<circle cx="149.40" cy="349.80" r="1.3" fill="#f2f5fb" stroke="#3f5fa8" stroke-width="0.75"/>
<circle cx="144.90" cy="350.70" r="1.3" fill="#f2f5fb" stroke="#3f5fa8" stroke-width="0.75"/>
<text x="38.80" y="345.33" font-size="8.5" text-anchor="end" >4</text>
<text x="38.80" y="364.23" font-size="8.5" text-anchor="end" >3</text>
<text x="38.80" y="383.13" font-size="8.5" text-anchor="end" >2</text>
<text x="38.80" y="401.83" font-size="8.5" text-anchor="end" >1</text>
<text x="38.80" y="420.23" font-size="8.5" text-anchor="end" >0</text>
<text x="16.80" y="378.50" font-size="10.8" text-anchor="middle" textLength="68.20" lengthAdjust="spacingAndGlyphs" transform="rotate(-90 16.80 378.50)" >pcPLA2 fold change</text>
<text x="28.70" y="378.50" font-size="10.8" text-anchor="middle" textLength="66.50" lengthAdjust="spacingAndGlyphs" transform="rotate(-90 28.70 378.50)" >normalized to actin</text>
<text x="84.00" y="316.80" font-size="10.1" text-anchor="start" textLength="33.80" lengthAdjust="spacingAndGlyphs" >pcPLA2</text>
<text x="63.00" y="426.00" font-size="8.5" text-anchor="end" textLength="14.50" lengthAdjust="spacingAndGlyphs" transform="rotate(-45 63.00 426.00)" >Ctrl</text>
<text x="90.00" y="426.00" font-size="8.5" text-anchor="end" textLength="39.00" lengthAdjust="spacingAndGlyphs" transform="rotate(-45 90.00 426.00)" >2MeSADP</text>
<text x="119.00" y="426.00" font-size="8.5" text-anchor="end" textLength="37.00" lengthAdjust="spacingAndGlyphs" transform="rotate(-45 119.00 426.00)" >Thrombin</text>
<text x="146.50" y="426.00" font-size="8.5" text-anchor="end" textLength="35.00" lengthAdjust="spacingAndGlyphs" transform="rotate(-45 146.50 426.00)" >Collagen</text>
<line x1="50.90" y1="335.90" x2="62.10" y2="335.90" stroke="#000" stroke-width="1.3"/>
<line x1="50.90" y1="333.80" x2="50.90" y2="338.00" stroke="#000" stroke-width="1.2"/>
<line x1="62.10" y1="333.80" x2="62.10" y2="338.00" stroke="#000" stroke-width="1.2"/>
<text x="56.50" y="336.00" font-size="7.6" text-anchor="middle" fill="#000" >**</text>
<line x1="76.30" y1="335.90" x2="87.30" y2="335.90" stroke="#000" stroke-width="1.3"/>
<line x1="76.30" y1="333.80" x2="76.30" y2="338.00" stroke="#000" stroke-width="1.2"/>
<line x1="87.30" y1="333.80" x2="87.30" y2="338.00" stroke="#000" stroke-width="1.2"/>
<text x="81.80" y="336.00" font-size="7.6" text-anchor="middle" fill="#000" >*</text>
<line x1="106.30" y1="335.90" x2="117.00" y2="335.90" stroke="#000" stroke-width="1.3"/>
<line x1="106.30" y1="333.80" x2="106.30" y2="338.00" stroke="#000" stroke-width="1.2"/>
<line x1="117.00" y1="333.80" x2="117.00" y2="338.00" stroke="#000" stroke-width="1.2"/>
<text x="111.65" y="336.00" font-size="7.6" text-anchor="middle" fill="#000" >*</text>
<line x1="133.60" y1="335.90" x2="144.90" y2="335.90" stroke="#000" stroke-width="1.3"/>
<line x1="133.60" y1="333.80" x2="133.60" y2="338.00" stroke="#000" stroke-width="1.2"/>
<line x1="144.90" y1="333.80" x2="144.90" y2="338.00" stroke="#000" stroke-width="1.2"/>
<text x="139.25" y="336.00" font-size="7.6" text-anchor="middle" fill="#000" >*</text>
<rect x="215.40" y="417.20" width="11.30" height="0.60" fill="#a0a2af" />
<rect x="229.60" y="415.00" width="11.30" height="2.80" fill="#cb8c80" />
<rect x="243.70" y="396.30" width="11.30" height="21.50" fill="#a0a2af" />
<rect x="257.40" y="375.80" width="11.30" height="42.00" fill="#cb8c80" />
<line x1="235.25" y1="413.40" x2="235.25" y2="416.50" stroke="#000" stroke-width="1.3"/>
<line x1="232.25" y1="413.40" x2="238.25" y2="413.40" stroke="#000" stroke-width="1.3"/>
<line x1="232.25" y1="416.50" x2="238.25" y2="416.50" stroke="#000" stroke-width="1.3"/>
<line x1="249.35" y1="390.60" x2="249.35" y2="401.30" stroke="#000" stroke-width="1.3"/>
<line x1="246.35" y1="390.60" x2="252.35" y2="390.60" stroke="#000" stroke-width="1.3"/>
<line x1="246.35" y1="401.30" x2="252.35" y2="401.30" stroke="#000" stroke-width="1.3"/>
<line x1="263.05" y1="368.50" x2="263.05" y2="382.70" stroke="#000" stroke-width="1.3"/>
<line x1="260.05" y1="368.50" x2="266.05" y2="368.50" stroke="#000" stroke-width="1.3"/>
<line x1="260.05" y1="382.70" x2="266.05" y2="382.70" stroke="#000" stroke-width="1.3"/>
<line x1="213.10" y1="338.00" x2="213.10" y2="417.80" stroke="#262626" stroke-width="1.5"/>
<line x1="210.10" y1="417.80" x2="273.30" y2="417.80" stroke="#262626" stroke-width="1.5"/>
<line x1="210.10" y1="340.70" x2="213.10" y2="340.70" stroke="#151515" stroke-width="1.2"/>
<line x1="210.10" y1="360.00" x2="213.10" y2="360.00" stroke="#151515" stroke-width="1.2"/>
<line x1="210.10" y1="379.30" x2="213.10" y2="379.30" stroke="#151515" stroke-width="1.2"/>
<line x1="210.10" y1="398.50" x2="213.10" y2="398.50" stroke="#151515" stroke-width="1.2"/>
<circle cx="216.20" cy="417.80" r="1.3" fill="#f2f5fb" stroke="#3f5fa8" stroke-width="0.75"/>
<circle cx="218.30" cy="417.80" r="1.3" fill="#f2f5fb" stroke="#3f5fa8" stroke-width="0.75"/>
<circle cx="220.40" cy="417.80" r="1.3" fill="#f2f5fb" stroke="#3f5fa8" stroke-width="0.75"/>
<circle cx="222.50" cy="417.80" r="1.3" fill="#f2f5fb" stroke="#3f5fa8" stroke-width="0.75"/>
<circle cx="224.60" cy="417.80" r="1.3" fill="#f2f5fb" stroke="#3f5fa8" stroke-width="0.75"/>
<circle cx="226.40" cy="417.80" r="1.3" fill="#f2f5fb" stroke="#3f5fa8" stroke-width="0.75"/>
<circle cx="230.20" cy="409.40" r="1.3" fill="#f2f5fb" stroke="#3f5fa8" stroke-width="0.75"/>
<circle cx="233.50" cy="410.30" r="1.3" fill="#f2f5fb" stroke="#3f5fa8" stroke-width="0.75"/>
<circle cx="237.20" cy="411.10" r="1.3" fill="#f2f5fb" stroke="#3f5fa8" stroke-width="0.75"/>
<circle cx="230.50" cy="418.10" r="1.3" fill="#f2f5fb" stroke="#3f5fa8" stroke-width="0.75"/>
<circle cx="233.50" cy="418.10" r="1.3" fill="#f2f5fb" stroke="#3f5fa8" stroke-width="0.75"/>
<circle cx="236.90" cy="418.10" r="1.3" fill="#f2f5fb" stroke="#3f5fa8" stroke-width="0.75"/>
<circle cx="240.00" cy="418.10" r="1.3" fill="#f2f5fb" stroke="#3f5fa8" stroke-width="0.75"/>
<circle cx="249.40" cy="373.10" r="1.3" fill="#f2f5fb" stroke="#3f5fa8" stroke-width="0.75"/>
<circle cx="249.40" cy="380.40" r="1.3" fill="#f2f5fb" stroke="#3f5fa8" stroke-width="0.75"/>
<circle cx="249.40" cy="391.30" r="1.3" fill="#f2f5fb" stroke="#3f5fa8" stroke-width="0.75"/>
<circle cx="247.10" cy="413.00" r="1.3" fill="#f2f5fb" stroke="#3f5fa8" stroke-width="0.75"/>
<circle cx="251.70" cy="412.30" r="1.3" fill="#f2f5fb" stroke="#3f5fa8" stroke-width="0.75"/>
<circle cx="263.30" cy="349.20" r="1.3" fill="#f2f5fb" stroke="#3f5fa8" stroke-width="0.75"/>
<circle cx="263.30" cy="358.30" r="1.3" fill="#f2f5fb" stroke="#3f5fa8" stroke-width="0.75"/>
<circle cx="263.30" cy="362.20" r="1.3" fill="#f2f5fb" stroke="#3f5fa8" stroke-width="0.75"/>
<circle cx="263.30" cy="372.00" r="1.3" fill="#f2f5fb" stroke="#3f5fa8" stroke-width="0.75"/>
<circle cx="263.30" cy="395.90" r="1.3" fill="#f2f5fb" stroke="#3f5fa8" stroke-width="0.75"/>
<circle cx="263.30" cy="409.50" r="1.3" fill="#f2f5fb" stroke="#3f5fa8" stroke-width="0.75"/>
<text x="207.00" y="343.53" font-size="8.5" text-anchor="end" >800</text>
<text x="207.00" y="362.73" font-size="8.5" text-anchor="end" >600</text>
<text x="207.00" y="382.13" font-size="8.5" text-anchor="end" >400</text>
<text x="207.00" y="401.53" font-size="8.5" text-anchor="end" >200</text>
<text x="207.00" y="420.03" font-size="8.5" text-anchor="end" >0</text>
<text x="173.80" y="378.80" font-size="10.8" text-anchor="middle" textLength="58.50" lengthAdjust="spacingAndGlyphs" transform="rotate(-90 173.80 378.80)" >TXB2 production</text>
<text x="186.00" y="378.80" font-size="10.8" text-anchor="middle" textLength="25.50" lengthAdjust="spacingAndGlyphs" transform="rotate(-90 186.00 378.80)" >(pg/ml)</text>
<text x="232.30" y="316.80" font-size="10.1" text-anchor="start" textLength="21.90" lengthAdjust="spacingAndGlyphs" >TxB2</text>
<text x="230.80" y="425.30" font-size="8.5" text-anchor="end" textLength="14.50" lengthAdjust="spacingAndGlyphs" transform="rotate(-45 230.80 425.30)" >Ctrl</text>
<text x="259.00" y="426.00" font-size="8.5" text-anchor="end" textLength="38.50" lengthAdjust="spacingAndGlyphs" transform="rotate(-45 259.00 426.00)" >2MeSADP</text>
<line x1="248.70" y1="334.80" x2="260.10" y2="334.80" stroke="#000" stroke-width="1.3"/>
<line x1="248.70" y1="332.70" x2="248.70" y2="336.90" stroke="#000" stroke-width="1.2"/>
<line x1="260.10" y1="332.70" x2="260.10" y2="336.90" stroke="#000" stroke-width="1.2"/>
<text x="254.40" y="334.90" font-size="7.6" text-anchor="middle" fill="#000" >*</text>
<rect x="0.5" y="0.5" width="519" height="460" fill="none" stroke="#000" stroke-width="1.2"/>
</svg>
</body></html>
